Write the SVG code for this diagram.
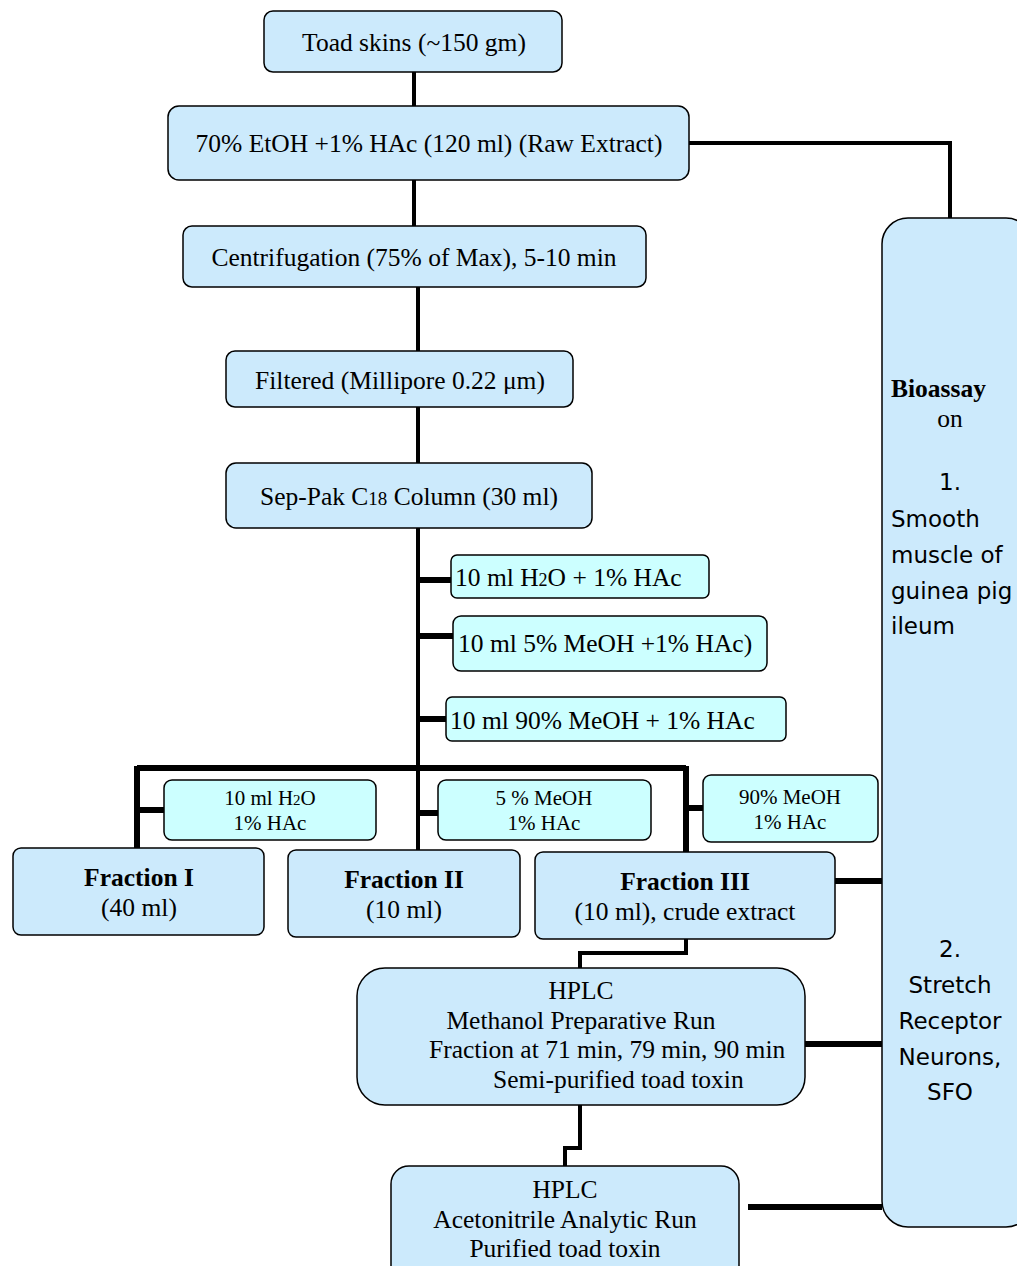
<svg xmlns="http://www.w3.org/2000/svg" width="1017" height="1266" viewBox="0 0 1017 1266">
<style>
.b{fill:#cceafc;stroke:#000;stroke-width:1.5}
.c{fill:#ccffff;stroke:#000;stroke-width:1.5}
.t{font-family:"Liberation Serif","Times New Roman",serif;font-size:25.5px;fill:#000}
.s{font-family:"Liberation Serif","Times New Roman",serif;font-size:21px;fill:#000}
.m{text-anchor:middle}
.bd{font-weight:bold}
.k{font-family:"Comic Sans MS","DejaVu Sans",sans-serif;font-size:23px;fill:#000}
.l{stroke:#000;fill:none;stroke-width:4;stroke-linejoin:miter}
.w{stroke-width:6}
</style>
<g id="connectors">
<path class="l" d="M414 72V106M414 180V226M418 287V351M418 407V463M418 528V850"/>
<path class="l w" d="M418 580H451M418 636H453M418 719H446"/>
<path class="l w" d="M137 768H686M137 766V848M686 766V852"/>
<path class="l w" d="M137 810H164M418 813H438M686 808H703"/>
<path class="l" d="M689 143H950V218"/>
<path class="l w" d="M835 881H882M805 1044H882M748 1207H882"/>
<path class="l" d="M686 939V953H580V968M580 1105V1148H565V1166"/>
</g>
<g id="toad"><rect class="b" x="264" y="11" width="298" height="61" rx="9"/><text class="t m" x="414" y="51">Toad skins (~150 gm)</text></g>
<g id="raw"><rect class="b" x="168" y="106" width="521" height="74" rx="11"/><text class="t m" x="429" y="152">70% EtOH +1% HAc (120 ml) (Raw Extract)</text></g>
<g id="centri"><rect class="b" x="183" y="226" width="463" height="61" rx="9"/><text class="t m" x="414" y="266">Centrifugation (75% of Max), 5-10 min</text></g>
<g id="filtered"><rect class="b" x="226" y="351" width="347" height="56" rx="9"/><text class="t m" x="400" y="389">Filtered (Millipore 0.22 μm)</text></g>
<g id="seppak"><rect class="b" x="226" y="463" width="366" height="65" rx="10"/><text class="t m" x="409" y="505">Sep-Pak C<tspan font-size="19">18</tspan> Column (30 ml)</text></g>
<g id="e1"><rect class="c" x="451" y="555" width="258" height="43" rx="6"/><text class="t" x="455" y="586">10 ml H<tspan font-size="18">2</tspan>O + 1% HAc</text></g>
<g id="e2"><rect class="c" x="453" y="616" width="314" height="55" rx="8"/><text class="t" x="458" y="652">10 ml 5% MeOH +1% HAc)</text></g>
<g id="e3"><rect class="c" x="446" y="697" width="340" height="44" rx="6"/><text class="t" x="450" y="729">10 ml 90% MeOH + 1% HAc</text></g>
<g id="s1"><rect class="c" x="164" y="780" width="212" height="60" rx="8"/><text class="s m" x="270" y="805">10 ml H<tspan font-size="15">2</tspan>O</text><text class="s m" x="270" y="830">1% HAc</text></g>
<g id="s2"><rect class="c" x="438" y="780" width="213" height="60" rx="8"/><text class="s m" x="544" y="805">5 % MeOH</text><text class="s m" x="544" y="830">1% HAc</text></g>
<g id="s3"><rect class="c" x="703" y="775" width="175" height="67" rx="8"/><text class="s m" x="790" y="804">90% MeOH</text><text class="s m" x="790" y="829">1% HAc</text></g>
<g id="f1"><rect class="b" x="13" y="848" width="251" height="87" rx="8"/><text class="t m bd" x="139" y="886">Fraction I</text><text class="t m" x="139" y="916">(40 ml)</text></g>
<g id="f2"><rect class="b" x="288" y="850" width="232" height="87" rx="8"/><text class="t m bd" x="404" y="888">Fraction II</text><text class="t m" x="404" y="918">(10 ml)</text></g>
<g id="f3"><rect class="b" x="535" y="852" width="300" height="87" rx="8"/><text class="t m bd" x="685" y="890">Fraction III</text><text class="t m" x="685" y="920">(10 ml), crude extract</text></g>
<g id="hplc1"><rect class="b" x="357" y="968" width="448" height="137" rx="28"/><text class="t m" x="581" y="999">HPLC</text><text class="t m" x="581" y="1029">Methanol Preparative Run</text><text class="t" x="429" y="1058">Fraction at 71 min, 79 min, 90 min</text><text class="t" x="493" y="1088">Semi-purified toad toxin</text></g>
<g id="hplc2"><rect class="b" x="391" y="1166" width="348" height="120" rx="18"/><text class="t m" x="565" y="1198">HPLC</text><text class="t m" x="565" y="1228">Acetonitrile Analytic Run</text><text class="t m" x="565" y="1257">Purified toad toxin</text></g>
<g id="bioassay"><rect class="b" x="882" y="218" width="150" height="1009" rx="26"/>
<text class="t bd" x="891" y="397">Bioassay</text><text class="t m" x="950" y="427">on</text>
<text class="k m" x="950" y="490">1.</text>
<text class="k" x="891" y="527">Smooth</text><text class="k" x="891" y="563">muscle of</text><text class="k" x="891" y="599">guinea pig</text><text class="k" x="891" y="634">ileum</text>
<text class="k m" x="950" y="957">2.</text><text class="k m" x="950" y="993">Stretch</text><text class="k m" x="950" y="1029">Receptor</text><text class="k m" x="950" y="1065">Neurons,</text><text class="k m" x="950" y="1100">SFO</text>
</g>
</svg>
